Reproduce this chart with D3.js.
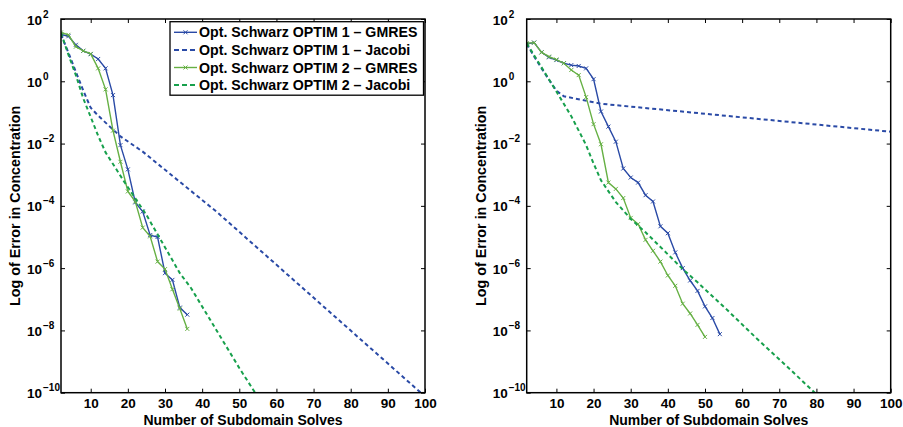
<!DOCTYPE html>
<html>
<head>
<meta charset="utf-8">
<script src="https://cdn.jsdelivr.net/npm/d3@7"></script>
<style>
  body { margin: 0; background: #fff; }
  svg text { font-family: "Liberation Sans", Arial, Helvetica, sans-serif; font-weight: bold; }
</style>
</head>
<body>
<div id="vis"></div>
<script>
// --- data ---
var legendLabels = [
  "Opt. Schwarz OPTIM 1 \u2013 GMRES",
  "Opt. Schwarz OPTIM 1 \u2013 Jacobi",
  "Opt. Schwarz OPTIM 2 \u2013 GMRES",
  "Opt. Schwarz OPTIM 2 \u2013 Jacobi"
];
var xTicks = [10, 20, 30, 40, 50, 60, 70, 80, 90, 100];
var yTicks = [1e2, 1e0, 1e-2, 1e-4, 1e-6, 1e-8, 1e-10];
var yTickExp = ["2", "0", "\u22122", "\u22124", "\u22126", "\u22128", "\u221210"];
var xLabel = "Number of Subdomain Solves";
var yLabel = "Log of Error in Concentration";

// left panel
var leftG1x = [2, 4, 6, 8, 10, 12, 14, 16, 18, 20, 22, 24, 26, 28, 30, 32, 34, 36];
var leftG1y = [32, 28, 14.8, 9.5, 7.4, 5.2, 2.6, 0.36, 8.9e-3, 1.48e-3, 1.29e-4, 6.6e-5, 1.15e-5, 1.0e-5, 6.9e-7, 4.2e-7, 5.4e-8, 3.2e-8];
var leftJ1x = [2, 4, 6, 8, 10, 12, 14, 18, 24, 44, 100];
var leftJ1y = [32, 8.3, 2.0, 0.5, 0.141, 7.9e-2, 4.7e-2, 1.7e-2, 5.5e-3, 6.3e-5, 7.6e-11];
var leftG2x = [2, 4, 6, 8, 10, 12, 14, 16, 18, 20, 22, 24, 26, 28, 30, 32, 34, 36];
var leftG2y = [37, 31, 12.9, 9.5, 7.6, 2.6, 0.55, 2.6e-2, 2.6e-3, 2.9e-4, 1.38e-4, 2.0e-5, 1.05e-5, 1.62e-6, 9.3e-7, 2.1e-7, 5.0e-8, 1.12e-8];
var leftJ2x = [2, 4, 6, 8, 10, 12, 14, 16, 19, 25, 34, 37, 50, 54, 56];
var leftJ2y = [35.5, 7.1, 1.58, 0.28, 7.1e-2, 1.78e-2, 5.2e-3, 2.2e-3, 6.0e-4, 5.1e-5, 6.9e-7, 2.3e-7, 6.2e-10, 1.12e-10, 5.0e-11];

// right panel
var rightG1x = [2, 4, 6, 8, 10, 12, 14, 16, 18, 20, 22, 24, 26, 28, 30, 32, 34, 36, 38, 40, 42, 44, 46, 48, 50, 52, 54];
var rightG1y = [15.8, 17.4, 8.5, 5.9, 4.8, 3.8, 3.3, 3.1, 2.6, 1.17, 0.107, 3.5e-2, 1.15e-2, 1.58e-3, 8.1e-4, 5.6e-4, 2.2e-4, 1.38e-4, 2.2e-5, 1.32e-5, 3.2e-6, 1.0e-6, 4.0e-7, 1.86e-7, 5.9e-8, 2.5e-8, 7.6e-9];
var rightJ1x = [2, 4, 6, 8, 10, 12, 22, 49, 100];
var rightJ1y = [15.8, 6.3, 2.6, 1.12, 0.5, 0.33, 0.19, 9.3e-2, 2.4e-2];
var rightG2x = [2, 4, 6, 8, 10, 12, 14, 16, 18, 20, 22, 24, 26, 28, 30, 32, 34, 36, 38, 40, 42, 44, 46, 48, 50];
var rightG2y = [16.6, 17.4, 8.5, 6.2, 5.0, 3.8, 2.3, 1.58, 0.31, 4.2e-2, 9.5e-3, 5.6e-4, 3.5e-4, 1.78e-4, 4.1e-5, 2.6e-5, 8.1e-6, 3.6e-6, 1.62e-6, 5.8e-7, 2.7e-7, 7.2e-8, 3.5e-8, 1.51e-8, 6.2e-9];
var rightJ2x = [2, 6, 10, 14, 18, 20, 22, 26, 30, 34, 38, 44, 48, 56, 64, 72, 80];
var rightJ2y = [16.6, 2.8, 0.47, 7.6e-2, 8.9e-3, 2.3e-3, 6.6e-4, 1.32e-4, 3.8e-5, 1.41e-5, 4.8e-6, 9.3e-7, 3.5e-7, 4.5e-8, 5.4e-9, 7.1e-10, 8.9e-11];

var BLUE = "#2a4aa6";
var GREEN = "#66b044";
var GREEN_D = "#17a04c";

var width = 903, height = 427;
var TOP = 19, BOTTOM = 392.7;

var svg = d3.select("#vis").append("svg").attr("width", width).attr("height", height);

function zip(xs, ys) {
  return xs.map(function(x, i) { return [x, ys[i]]; });
}

function panel(id, left, right, series, withLegend) {
  var x = d3.scaleLinear().domain([2, 100]).range([left, right]);
  var y = d3.scaleLog().domain([1e-10, 1e2]).range([BOTTOM, TOP]);
  var g = svg.append("g");

  g.append("clipPath").attr("id", "clip" + id)
    .append("rect").attr("x", left).attr("y", TOP).attr("width", right - left).attr("height", BOTTOM - TOP);

  // ticks inside the box on all four sides
  var ax = function(sel) { sel.selectAll(".domain").remove(); sel.selectAll("line").attr("stroke", "#000").attr("stroke-width", 1); };
  g.append("g").attr("transform", "translate(0," + BOTTOM + ")")
    .call(d3.axisBottom(x).tickValues(xTicks).tickSize(-4).tickSizeOuter(0).tickPadding(6).tickFormat(d3.format("d")))
    .call(ax)
    .selectAll("text").attr("font-size", 13.5).attr("fill", "#000").attr("dy", "0.71em");
  g.append("g").attr("transform", "translate(0," + TOP + ")")
    .call(d3.axisTop(x).tickValues(xTicks).tickSize(-4).tickSizeOuter(0).tickFormat(""))
    .call(ax);
  g.append("g").attr("transform", "translate(" + left + ",0)")
    .call(d3.axisLeft(y).tickValues(yTicks).tickSize(-4).tickSizeOuter(0).tickFormat(""))
    .call(ax);
  g.append("g").attr("transform", "translate(" + right + ",0)")
    .call(d3.axisRight(y).tickValues(yTicks).tickSize(-4).tickSizeOuter(0).tickFormat(""))
    .call(ax);

  // y tick labels 10^n
  yTicks.forEach(function(v, i) {
    var t = g.append("text").attr("x", left - 34).attr("y", y(v) + 5.5).attr("font-size", 13.5).attr("fill", "#000");
    t.append("tspan").text("10");
    t.append("tspan").attr("dx", 1).attr("dy", -7).attr("font-size", 10).text(yTickExp[i]);
  });

  // lines
  var line = d3.line().x(function(d) { return x(d[0]); }).y(function(d) { return y(d[1]); });
  var plot = g.append("g").attr("clip-path", "url(#clip" + id + ")");
  series.forEach(function(s) {
    var pts = zip(s.x, s.y);
    plot.append("path").datum(pts)
      .attr("d", line)
      .attr("fill", "none")
      .attr("stroke", s.color)
      .attr("stroke-width", s.dash ? 2 : 1.4)
      .attr("stroke-dasharray", s.dash ? "4,3" : null);
    if (s.marker) {
      plot.selectAll(null).data(pts).enter().append("path")
        .attr("d", "M-2,-2L2,2M-2,2L2,-2")
        .attr("transform", function(d) { return "translate(" + x(d[0]) + "," + y(d[1]) + ")"; })
        .attr("stroke", s.color).attr("stroke-width", 1).attr("fill", "none");
    }
  });

  // box
  g.append("rect").attr("x", left).attr("y", TOP).attr("width", right - left).attr("height", BOTTOM - TOP)
    .attr("fill", "none").attr("stroke", "#000").attr("stroke-width", 1.5);

  // axis labels
  g.append("text").attr("x", (left + right) / 2).attr("y", 424.5).attr("text-anchor", "middle")
    .attr("font-size", 14).attr("fill", "#000").text(xLabel);
  g.append("text").attr("transform", "translate(" + (left - 41) + "," + ((TOP + BOTTOM) / 2) + ") rotate(-90)")
    .attr("text-anchor", "middle").attr("font-size", 14.3).attr("fill", "#000").text(yLabel);

  if (withLegend) {
    var lg = g.append("g");
    lg.append("rect").attr("x", 170).attr("y", 21.7).attr("width", 253.5).attr("height", 73.5)
      .attr("fill", "#fff").attr("stroke", "#000").attr("stroke-width", 1.3);
    series.forEach(function(s, i) {
      var cy = 32.3 + i * 17.6;
      lg.append("line").attr("x1", 174).attr("x2", 197).attr("y1", cy).attr("y2", cy)
        .attr("stroke", s.color).attr("stroke-width", s.dash ? 2 : 1.4)
        .attr("stroke-dasharray", s.dash ? "5,3" : null);
      if (s.marker) {
        lg.append("path").attr("d", "M-2,-2L2,2M-2,2L2,-2")
          .attr("transform", "translate(185.5," + cy + ")")
          .attr("stroke", s.color).attr("stroke-width", 1).attr("fill", "none");
      }
      lg.append("text").attr("x", 199).attr("y", cy + 5).attr("font-size", 14.2).attr("fill", "#000").text(legendLabels[i]);
    });
  }
}

panel("L", 61, 425, [
  { x: leftG1x, y: leftG1y, color: BLUE, marker: true },
  { x: leftJ1x, y: leftJ1y, color: BLUE, dash: true },
  { x: leftG2x, y: leftG2y, color: GREEN, marker: true },
  { x: leftJ2x, y: leftJ2y, color: GREEN_D, dash: true }
], true);

panel("R", 526.7, 890.7, [
  { x: rightG1x, y: rightG1y, color: BLUE, marker: true },
  { x: rightJ1x, y: rightJ1y, color: BLUE, dash: true },
  { x: rightG2x, y: rightG2y, color: GREEN, marker: true },
  { x: rightJ2x, y: rightJ2y, color: GREEN_D, dash: true }
], false);
</script>
</body>
</html>
